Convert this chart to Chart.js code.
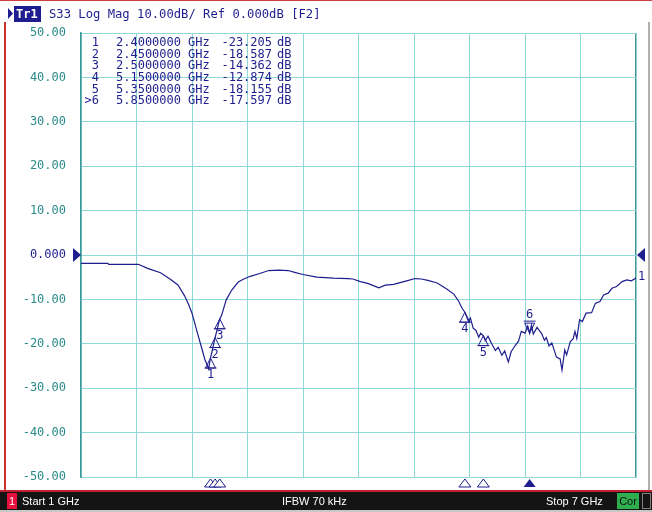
<!DOCTYPE html>
<html><head><meta charset="utf-8">
<script src="https://cdn.jsdelivr.net/npm/chart.js@4"></script>
<style>html,body{margin:0;padding:0;background:#fff;}canvas{display:block;}</style>
</head><body>
<canvas id="c" width="652" height="512"></canvas>
<script>
// ---- data ----
const freqGHz = [1.00,1.29,1.30,1.62,1.72,1.86,1.97,2.05,2.12,2.16,2.20,2.25,2.30,2.34,2.38,2.40,2.45,2.50,2.52,2.57,2.63,2.70,2.76,2.83,2.94,3.03,3.14,3.24,3.31,3.40,3.55,3.73,3.89,3.94,4.02,4.10,4.16,4.22,4.29,4.38,4.47,4.54,4.61,4.68,4.75,4.85,4.95,5.03,5.08,5.12,5.15,5.19,5.21,5.24,5.27,5.30,5.32,5.35,5.37,5.40,5.44,5.48,5.51,5.55,5.58,5.62,5.65,5.69,5.73,5.76,5.80,5.83,5.85,5.87,5.89,5.93,5.98,6.01,6.03,6.06,6.09,6.12,6.14,6.18,6.20,6.23,6.25,6.29,6.32,6.34,6.36,6.39,6.42,6.46,6.52,6.56,6.61,6.65,6.70,6.74,6.79,6.85,6.90,6.95,7.00];
const s33dB = [-1.9,-1.9,-2.1,-2.1,-3.0,-4.0,-5.5,-6.8,-9.2,-11.0,-13.1,-16.9,-20.6,-23.6,-25.6,-23.2,-18.6,-14.4,-13.6,-10.1,-7.9,-6.1,-5.4,-4.8,-4.1,-3.5,-3.4,-3.5,-3.9,-4.4,-5.0,-5.2,-5.3,-5.4,-6.0,-6.4,-6.9,-7.4,-6.8,-6.6,-6.1,-5.7,-5.3,-5.4,-5.7,-6.3,-7.6,-8.8,-10.3,-12.0,-12.9,-15.0,-14.2,-16.5,-17.0,-18.5,-17.6,-18.2,-19.3,-18.3,-20.0,-21.5,-20.8,-22.6,-21.6,-24.1,-21.8,-20.5,-19.4,-17.2,-17.6,-16.0,-17.6,-15.8,-17.8,-16.3,-17.7,-19.2,-18.6,-20.5,-19.8,-21.7,-23.0,-23.4,-25.9,-21.4,-22.5,-19.5,-18.9,-17.2,-18.8,-14.6,-15.0,-13.1,-13.0,-10.9,-10.5,-9.0,-8.6,-7.5,-7.1,-6.0,-5.6,-5.8,-5.2];
const markerNo = ['1','2','3','4','5','6'];
const markerFreq = [2.40,2.45,2.50,5.15,5.35,5.85];
const markerVal = [-23.205,-18.587,-14.362,-12.874,-18.155,-17.597];
const activeMarker = 5;
const xGrid = [1,1.6,2.2,2.8,3.4,4.0,4.6,5.2,5.8,6.4,7.0];
const yTicks = [50,40,30,20,10,0,-10,-20,-30,-40,-50];
const headerText = 'S33 Log Mag 10.00dB/ Ref 0.000dB [F2]';
const startLabel = 'Start 1 GHz', ifbwLabel = 'IFBW 70 kHz', stopLabel = 'Stop 7 GHz';

const NAVY = '#1e1e8e', TEAL = '#2a8a8a', GRID = '#8ed8d6', DARKGRID = '#3a9898';
const MONO = '"DejaVu Sans Mono", monospace';

const deco = {
  id: 'deco',
  beforeDraw(chart) {
    const c = chart.ctx;
    c.save(); c.fillStyle = '#fff'; c.fillRect(0, 0, chart.width, chart.height); c.restore();
  },
  afterDraw(chart) {
    const c = chart.ctx, a = chart.chartArea, xs = chart.scales.x, ys = chart.scales.y;
    c.save();
    // frame lines
    c.fillStyle = '#d04040'; c.fillRect(0, 0, 652, 1);
    c.fillStyle = '#c83030'; c.fillRect(4, 22, 2, 469);
    c.fillStyle = '#b0b0b0'; c.fillRect(648, 22, 2, 469);
    // header
    c.fillStyle = NAVY;
    c.beginPath(); c.moveTo(8, 8); c.lineTo(13, 13.5); c.lineTo(8, 19); c.closePath(); c.fill();
    c.fillRect(14, 6, 27, 16);
    c.font = 'bold 12px ' + MONO; c.textBaseline = 'middle'; c.textAlign = 'left';
    c.fillStyle = '#fff'; c.fillText('Tr1', 16, 14.5);
    c.fillStyle = NAVY; c.font = '12.2px ' + MONO;
    c.fillText(headerText, 49, 14.5);
    // marker table
    c.font = '12px ' + MONO;
    for (let i = 0; i < markerNo.length; i++) {
      const ty = 43 + i * 11.6;
      c.textAlign = 'right';
      c.fillText((i === activeMarker ? '>' : '') + markerNo[i], 99, ty);
      c.fillText(markerFreq[i].toFixed(7), 181, ty);
      c.textAlign = 'left';
      c.fillText('GHz', 188, ty);
      c.textAlign = 'right';
      c.fillText(markerVal[i].toFixed(3), 272, ty);
      c.textAlign = 'left';
      c.fillText('dB', 277, ty);
    }
    // reference level arrows
    const y0 = ys.getPixelForValue(0);
    c.beginPath(); c.moveTo(a.left - 8, y0 - 7); c.lineTo(a.left, y0); c.lineTo(a.left - 8, y0 + 7); c.closePath(); c.fill();
    c.beginPath(); c.moveTo(a.right + 9, y0 - 7); c.lineTo(a.right + 1, y0); c.lineTo(a.right + 9, y0 + 7); c.closePath(); c.fill();
    // trace label at end
    c.font = '12px ' + MONO; c.textAlign = 'left';
    c.fillText('1', a.right + 2, ys.getPixelForValue(s33dB[s33dB.length - 1]) - 1);
    // markers on trace
    c.strokeStyle = NAVY; c.lineWidth = 1; c.textAlign = 'center';
    for (let i = 0; i < markerNo.length; i++) {
      const px = xs.getPixelForValue(markerFreq[i]), py = ys.getPixelForValue(markerVal[i]);
      c.beginPath();
      if (i === activeMarker) {
        c.moveTo(px - 5, py - 10); c.lineTo(px + 5, py - 10); c.lineTo(px, py); c.closePath(); c.stroke();
        c.beginPath(); c.moveTo(px - 6, py - 12); c.lineTo(px + 6, py - 12); c.stroke();
        c.fillText(markerNo[i], px, py - 18);
      } else {
        c.moveTo(px, py); c.lineTo(px + 5, py + 10); c.lineTo(px - 5, py + 10); c.closePath(); c.stroke();
        c.beginPath(); c.moveTo(px - 6, py + 10); c.lineTo(px + 6, py + 10); c.stroke();
        c.fillText(markerNo[i], px, py + 17);
      }
    }
    // stimulus markers below the grid
    for (let i = 0; i < markerNo.length; i++) {
      const px = xs.getPixelForValue(markerFreq[i]);
      c.beginPath(); c.moveTo(px, a.bottom + 2); c.lineTo(px + 6, a.bottom + 10); c.lineTo(px - 6, a.bottom + 10); c.closePath();
      if (i === activeMarker) { c.fillStyle = NAVY; c.fill(); } else { c.fillStyle = '#fff'; c.fill(); c.stroke(); }
    }
    // bottom status bar
    c.fillStyle = '#c02030'; c.fillRect(0, 490, 652, 2);
    c.fillStyle = '#141414'; c.fillRect(0, 492, 652, 18);
    c.fillStyle = '#c8c8c8'; c.fillRect(0, 510, 652, 2);
    c.fillStyle = '#e8103c'; c.fillRect(7, 493, 10, 16);
    c.font = '11px "Liberation Sans", sans-serif'; c.textBaseline = 'middle';
    c.fillStyle = '#fff'; c.textAlign = 'center'; c.fillText('1', 12, 501.5);
    c.textAlign = 'left';
    c.fillText(startLabel, 22, 501.5);
    c.fillText(ifbwLabel, 282, 501.5);
    c.fillText(stopLabel, 546, 501.5);
    c.fillStyle = '#2fae4e'; c.fillRect(617, 493, 22, 16);
    c.fillStyle = '#111'; c.textAlign = 'center'; c.fillText('Cor', 628, 501.5);
    c.strokeStyle = '#808080'; c.strokeRect(642.5, 493.5, 8, 15);
    c.restore();
  }
};

new Chart(document.getElementById('c'), {
  type: 'line',
  data: {
    datasets: [{
      data: freqGHz.map((f, i) => ({ x: f, y: s33dB[i] })),
      borderColor: NAVY, borderWidth: 1.2, pointRadius: 0, tension: 0, fill: false
    }]
  },
  options: {
    responsive: false, animation: false, devicePixelRatio: 1,
    layout: { padding: { left: 0, top: 33, right: 16, bottom: 35 } },
    plugins: { legend: { display: false }, tooltip: { enabled: false } },
    scales: {
      x: {
        type: 'linear', min: 1, max: 7,
        afterBuildTicks: s => { s.ticks = xGrid.map(v => ({ value: v })); },
        afterFit: s => { s.height = 0; },
        ticks: { display: false },
        grid: { color: ctx => (ctx.tick && ctx.tick.value === 7) ? DARKGRID : GRID, lineWidth: ctx => (ctx.tick && ctx.tick.value === 7) ? 1.5 : 1, drawTicks: false },
        border: { color: GRID, width: 1 }
      },
      y: {
        min: -50, max: 50,
        afterBuildTicks: s => { s.ticks = yTicks.map(v => ({ value: v })); },
        afterFit: s => { s.width = 81; },
        ticks: {
          padding: 15,
          font: { family: 'DejaVu Sans Mono', size: 12 },
          color: ctx => ctx.tick.value === 0 ? NAVY : TEAL,
          callback: v => v === 0 ? '0.000' : v.toFixed(2)
        },
        grid: { color: GRID, drawTicks: false },
        border: { color: DARKGRID, width: 1.5 }
      }
    }
  },
  plugins: [deco]
});
</script>
</body></html>
